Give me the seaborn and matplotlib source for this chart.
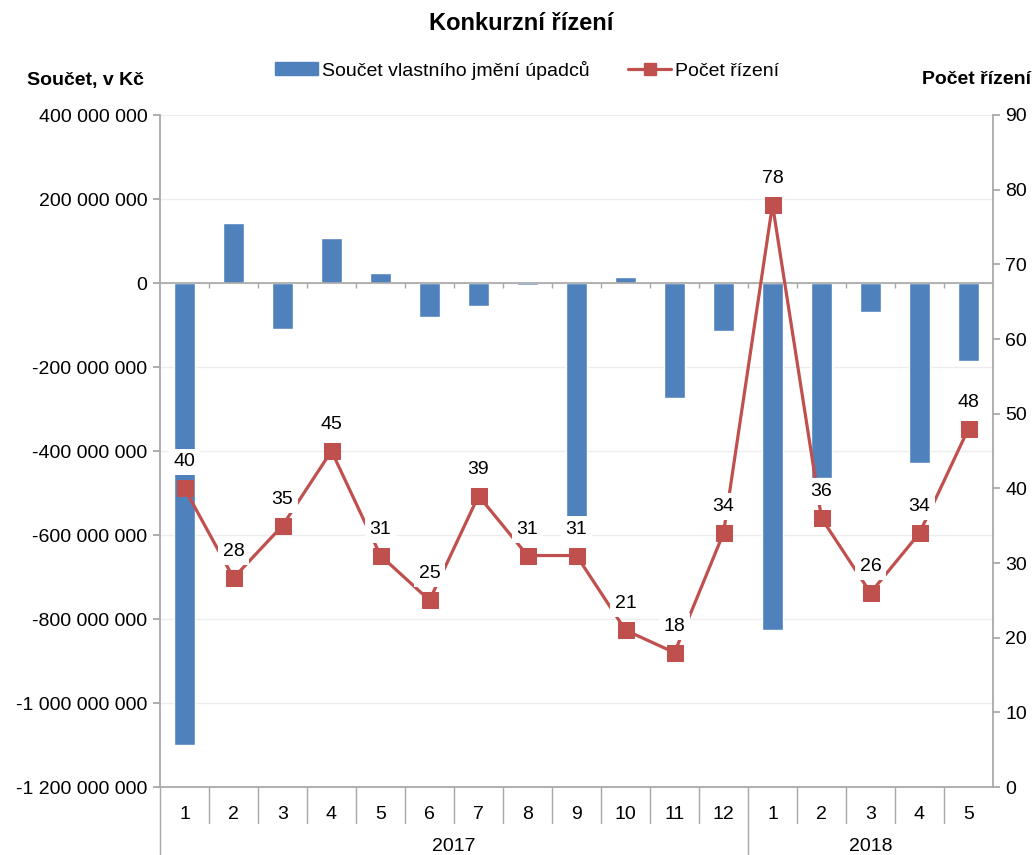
import numpy as np
import pandas as pd
import matplotlib
matplotlib.use("Agg")
import matplotlib.pyplot as plt
import matplotlib.transforms as mtransforms
from matplotlib.lines import Line2D
from matplotlib.patches import Patch
from matplotlib.ticker import FuncFormatter
import seaborn as sns

# --- Data ---
months = ["1", "2", "3", "4", "5", "6", "7", "8", "9", "10", "11", "12",
          "1", "2", "3", "4", "5"]
years = ["2017"] * 12 + ["2018"] * 5
equity = [-1100e6, 144e6, -110e6, 108e6, 24e6, -81e6, -55e6, -5e6, -620e6,
          14e6, -274e6, -114e6, -826e6, -464e6, -69e6, -429e6, -186e6]
count = [40, 28, 35, 45, 31, 25, 39, 31, 31, 21, 18, 34, 78, 36, 26, 34, 48]

BLUE = "#4F81BD"
RED = "#C0504D"
AXIS = "#A6A6A6"
FS = 14

sns.set_theme(style="white")
plt.rcParams["font.family"] = ["Liberation Sans", "DejaVu Sans"]
plt.rcParams.update({"font.size": FS, "text.color": "black",
                     "xtick.color": "black", "ytick.color": "black"})

df = pd.DataFrame({"pos": np.arange(len(months)), "month": months,
                   "year": years, "equity": equity, "count": count})

fig = plt.figure(figsize=(10.35, 8.55), dpi=100)
ax = fig.add_axes([160 / 1035, 68 / 855, 833 / 1035, 672 / 855])

sns.barplot(data=df, x="pos", y="equity", color=BLUE, width=0.41,
            saturation=1, ax=ax, zorder=2)
ax.set_xlim(-0.5, len(months) - 0.5)
ax.set_ylim(-1.2e9, 4e8)
ax.set_yticks(np.arange(-1.2e9, 4.01e8, 2e8))
ax.yaxis.set_major_formatter(FuncFormatter(lambda v, p: f"{v:,.0f}".replace(",", " ")))
ax.yaxis.grid(True, color="#EDEDED", linewidth=1, zorder=0)
ax.set_xlabel("")
ax.set_ylabel("")
ax.set_xticks(df["pos"])
ax.set_xticklabels(df["month"])
ax.tick_params(axis="x", length=0, pad=14, labelsize=FS, colors="black")
ax.tick_params(axis="y", left=True, length=5, color=AXIS, labelsize=FS,
               labelcolor="black", pad=4)
for side in ["top", "right"]:
    ax.spines[side].set_visible(False)
for side in ["left", "bottom"]:
    ax.spines[side].set_color(AXIS)
ax.axhline(0, color=AXIS, linewidth=1.2, zorder=3)
# small ticks on the zero line between categories
ax.vlines(np.arange(len(months) - 1) + 0.5, -12e6, 0, color=AXIS, linewidth=1, zorder=3)

# category separators below the plot
trans = mtransforms.blended_transform_factory(ax.transData, ax.transAxes)
for b in np.arange(len(months) - 1) + 0.5:
    low = -0.101 if b == 11.5 else -0.054
    ax.plot([b, b], [0, low], transform=trans, color=AXIS, lw=1, clip_on=False)
ax.plot([-0.5, -0.5], [0, -0.101], transform=trans, color=AXIS, lw=1, clip_on=False)
for yr in ["2017", "2018"]:
    xc = df.loc[df["year"] == yr, "pos"].mean()
    ax.text(xc, -0.089, yr, transform=trans, ha="center", va="center", fontsize=FS)

# second axis: count line
ax2 = ax.twinx()
sns.lineplot(data=df, x="pos", y="count", color=RED, linewidth=2.3,
             marker="s", markersize=11, markeredgecolor=RED, ax=ax2)
ax2.set_ylim(0, 90)
ax2.set_yticks(np.arange(0, 91, 10))
ax2.set_xlim(-0.5, len(months) - 0.5)
ax2.set_ylabel("")
ax2.set_xlabel("")
ax2.tick_params(axis="y", right=True, length=5, color=AXIS, labelsize=FS,
                labelcolor="black", pad=4)
for side in ["top", "left", "bottom"]:
    ax2.spines[side].set_visible(False)
ax2.spines["right"].set_color(AXIS)
for x, v in zip(df["pos"], df["count"]):
    ax2.annotate(str(v), (x, v), xytext=(0, 19), textcoords="offset points",
                 ha="center", va="center", fontsize=FS,
                 bbox=dict(fc="white", ec="none", pad=3.5))

# titles and axis captions
fig.text(521 / 1035, 1 - 23 / 855, "Konkurzní řízení", ha="center", va="center",
         fontsize=17, fontweight="bold")
fig.text(27 / 1035, 1 - 80 / 855, "Součet, v Kč", ha="left", va="center",
         fontsize=FS, fontweight="bold")
fig.text(1031 / 1035, 1 - 80 / 855, "Počet řízení", ha="right", va="center",
         fontsize=FS, fontweight="bold")

handles = [Patch(color=BLUE, label="Součet vlastního jmění úpadců"),
           Line2D([0], [0], color=RED, lw=2.3, marker="s", markersize=9,
                  label="Počet řízení")]
fig.legend(handles=handles, loc="center", bbox_to_anchor=(527 / 1035, 1 - 70 / 855),
           ncol=2, frameon=False, fontsize=FS, handlelength=2.2,
           handletextpad=0.2, columnspacing=2.0)

fig.savefig("out.png", dpi=100)
